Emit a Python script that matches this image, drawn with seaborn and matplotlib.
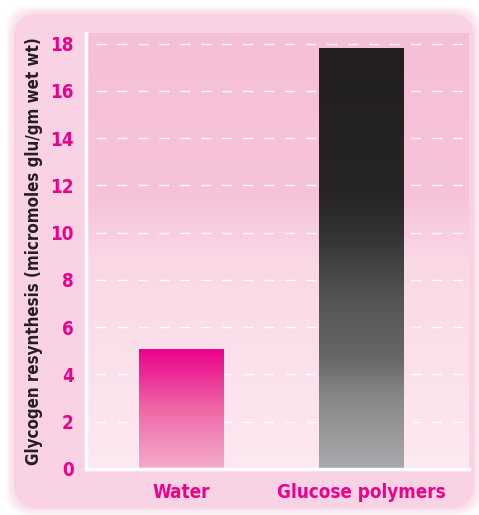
import numpy as np
import matplotlib
matplotlib.use("Agg")
import matplotlib.pyplot as plt
from matplotlib.colors import LinearSegmentedColormap
from matplotlib.patches import FancyBboxPatch
import seaborn as sns
import pandas as pd

categories = ["Water", "Glucose polymers"]
values = [5.05, 17.8]
yticks = [0, 2, 4, 6, 8, 10, 12, 14, 16, 18]
ylabel = "Glycogen resynthesis (micromoles glu/gm wet wt)"

sns.set_theme(style="white")
plt.rcParams['font.family'] = ['DejaVu Sans']
plt.rcParams['font.stretch'] = 'condensed'

W, H = 479, 515
fig = plt.figure(figsize=(W / 100, H / 100), dpi=100)
fig.patch.set_facecolor("white")

# soft shadowed rounded panel
px0, py0, px1, py1 = 14, 14, 474, 508
for i in range(8, 0, -1):
    r = FancyBboxPatch(((px0 - i) / W, 1 - (py1 + i) / H), (px1 - px0 + 2 * i) / W, (py1 - py0 + 2 * i) / H,
                       boxstyle="round,pad=0,rounding_size=0.05", transform=fig.transFigure,
                       facecolor="#f7c6da", edgecolor="none", alpha=0.08, zorder=-2)
    fig.patches.append(r)
panel = FancyBboxPatch((px0 / W, 1 - py1 / H), (px1 - px0) / W, (py1 - py0) / H,
                       boxstyle="round,pad=0,rounding_size=0.05", transform=fig.transFigure,
                       facecolor="#f9d3e4", edgecolor="none", zorder=-1)
fig.patches.append(panel)

ax_l, ax_r, ax_t, ax_b = 86, 469, 33, 469
ax = fig.add_axes([ax_l / W, 1 - ax_b / H, (ax_r - ax_l) / W, (ax_b - ax_t) / H])
ax.set_facecolor("none")
ax.set_zorder(1)

df = pd.DataFrame({"cat": categories, "val": values})
sns.barplot(data=df, x="cat", y="val", ax=ax, width=0.47, color="white", edgecolor="none", zorder=3)

ymin, ymax = 0, 18.45
xmin, xmax = -0.53, 1.595

# background gradient
bg_cmap = LinearSegmentedColormap.from_list(
    "bg", [(0, "#fde9f1"), (0.48, "#fad8e6"), (0.62, "#f7c3da"), (1, "#f6bfd8")])
grad = np.linspace(0, 1, 256).reshape(-1, 1)
ax.imshow(grad, cmap=bg_cmap, origin="lower", aspect="auto",
          extent=[xmin, xmax, ymin, ymax], zorder=0)

cmaps = [
    LinearSegmentedColormap.from_list("w", [(0, "#f5adcd"), (0.5, "#ef67a6"), (1, "#ec008c")]),
    LinearSegmentedColormap.from_list("g", [(0, "#a8a9ac"), (0.16, "#8a8a8c"), (0.27, "#666667"),
                                            (0.40, "#555556"), (0.48, "#444445"), (0.56, "#333233"),
                                            (0.66, "#262425"), (1, "#231f20")]),
]
for p, cm in zip(ax.patches, cmaps):
    x0, w, h = p.get_x(), p.get_width(), p.get_height()
    p.set_visible(False)
    ax.imshow(grad, cmap=cm, origin="lower", aspect="auto",
              extent=[x0, x0 + w, 0, h], zorder=2)

ax.set_xlim(xmin, xmax)
ax.set_ylim(ymin, ymax)

for y in yticks[1:]:
    ax.axhline(y, xmin=0.026, xmax=1, color="white", lw=1.0, ls=(0, (7.2, 7.9)), zorder=1)

for s in ["top", "right"]:
    ax.spines[s].set_visible(False)
for s in ["left", "bottom"]:
    ax.spines[s].set_color("white")
    ax.spines[s].set_linewidth(2.5)
    ax.spines[s].set_zorder(4)

ax.set_yticks(yticks)
ax.set_yticklabels([str(t) for t in yticks], color="#ec008c", fontweight="bold", fontsize=13.5)
ax.set_xticks(range(len(categories)))
ax.set_xticklabels(categories, color="#ec008c", fontweight="bold", fontsize=13.5)
ax.tick_params(axis="both", length=0)
ax.tick_params(axis="y", pad=9)
ax.tick_params(axis="x", pad=10)
ax.set_xlabel("")
ax.set_ylabel(ylabel, color="#231f20", fontweight="bold", fontsize=12.2, labelpad=5)

fig.savefig("out.png", dpi=100)
